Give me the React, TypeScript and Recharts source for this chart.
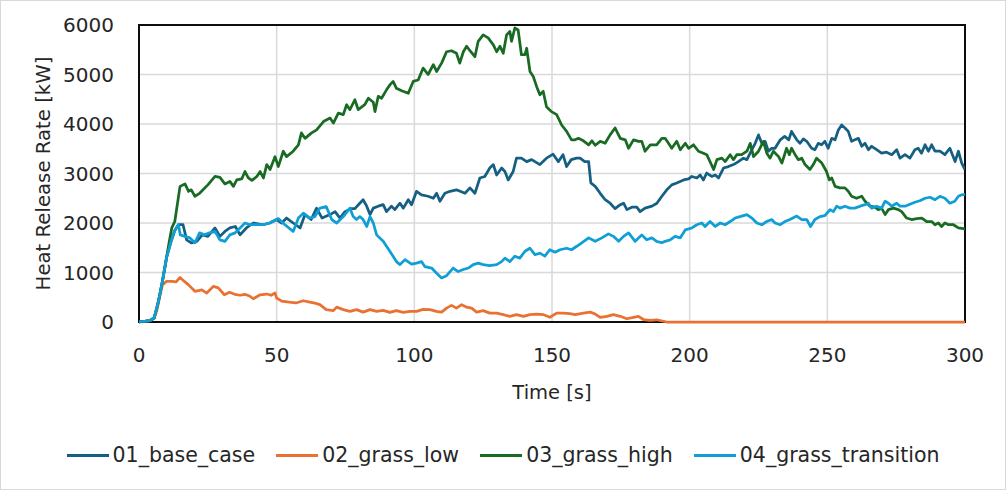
import React from 'react';
import { LineChart, Line, XAxis, YAxis, CartesianGrid, ReferenceArea } from 'recharts';

// Heat release rate curves, [time s, HRR kW]
const baseCase: [number, number][] = [
  [0, 0], [2, 15], [4, 30], [5.5, 80], [7, 400], [8.5, 820], [10, 1300], [11.5, 1600], [13, 1850], [14.3, 1965],
  [16, 1965], [17.3, 1660], [19, 1600], [21, 1630], [23, 1760], [25, 1730], [27.6, 1900], [29.4, 1730], [31.2, 1830], [33, 1900],
  [35, 1930], [36.7, 1760], [39, 1900], [41.5, 2000], [45, 1965], [47.5, 2000], [50, 2070], [51.8, 2000], [53.6, 2100], [56, 2000],
  [58.5, 1900], [60.3, 2170], [62.5, 2070], [64.5, 2300], [66.5, 2100], [69.4, 2170], [71.2, 2230], [73, 2100], [74.8, 2230], [77, 2290],
  [78.4, 2290], [80.2, 2400], [81.4, 2470], [82.7, 2340], [83.9, 2170], [85.1, 2300], [86.9, 2340], [88.7, 2370], [89.9, 2230], [91.7, 2340],
  [92.9, 2270], [94.8, 2400], [96, 2300], [97.8, 2470], [99, 2370], [100.8, 2640], [102.6, 2570], [105, 2540], [106.9, 2500], [108.1, 2600],
  [109.3, 2440], [111.1, 2600], [113, 2640], [115.3, 2670], [118.4, 2600], [120.2, 2710], [122, 2600], [123.8, 2910], [125.6, 2940], [127.4, 3110],
  [128.7, 3180], [129.9, 2970], [131.7, 3110], [132.9, 3040], [134.1, 2870], [135.9, 3040], [137.1, 3310], [138.9, 3310], [140.8, 3240], [142.6, 3280],
  [145.6, 3180], [148, 3310], [150.4, 3390], [152.3, 3240], [154, 3380], [155.3, 3140], [157, 3280], [158.9, 3310], [160.2, 3310], [161.9, 3240],
  [163.3, 3240], [164.1, 2810], [165.7, 2740], [167.5, 2600], [169.3, 2470], [171.1, 2400], [172.9, 2290], [174.8, 2370], [176, 2400], [177.2, 2270],
  [179, 2320], [180.8, 2320], [182, 2230], [183.8, 2300], [186.3, 2340], [188.1, 2400], [189.9, 2540], [191.7, 2670], [193.5, 2770], [195.3, 2810],
  [197.8, 2870], [199.6, 2890], [200.8, 2940], [202.6, 2910], [203.8, 2970], [205, 2870], [206.2, 3010], [208, 2940], [209.3, 2970], [210.5, 2910],
  [212.3, 3110], [214.1, 3140], [215.9, 3180], [217.7, 3240], [219.5, 3310], [220.8, 3280], [222.6, 3480], [223.8, 3610], [225, 3780], [226.2, 3610],
  [227.4, 3650], [228.6, 3450], [229.8, 3510], [231, 3510], [232.9, 3680], [234.5, 3750], [236, 3680], [237, 3850], [238.9, 3680], [240.1, 3610],
  [241.3, 3700], [242.5, 3650], [244.3, 3510], [245.5, 3480], [246.7, 3610], [247.9, 3580], [249.1, 3650], [250.3, 3510], [251.6, 3710], [252.8, 3680],
  [254, 3880], [255.2, 3980], [256.4, 3920], [257.6, 3850], [258.8, 3650], [260, 3680], [261.3, 3710], [262.5, 3550], [263.7, 3610], [264.9, 3480],
  [266.1, 3550], [267.9, 3480], [269.7, 3410], [271.5, 3430], [273.4, 3380], [275.2, 3480], [276.4, 3310], [278.2, 3380], [280, 3310], [281.8, 3480],
  [283, 3510], [284.2, 3410], [285.5, 3580], [286.7, 3450], [287.9, 3580], [289.1, 3450], [290.9, 3450], [292.7, 3380], [294.5, 3510], [296.4, 3240],
  [297.6, 3450], [298.8, 3210], [300, 3080],
];

const grassLow: [number, number][] = [
  [0, 0], [2, 15], [4, 30], [5.5, 80], [6.4, 215], [7.5, 500], [8.5, 750], [10, 820], [12, 820], [13.5, 810],
  [14.9, 900], [16.5, 820], [18, 750], [20.3, 620], [22.8, 650], [24.6, 585], [27, 720], [28.8, 690], [31, 550], [32.9, 600],
  [34.8, 560], [36.7, 540], [38.5, 560], [40.3, 520], [41.5, 470], [44, 550], [46.4, 565], [48, 540], [49.4, 585], [50, 485],
  [51.8, 420], [54.5, 400], [57, 385], [59.7, 430], [62, 400], [63.9, 380], [65.7, 350], [68, 250], [70.6, 230], [71.8, 300],
  [74.2, 250], [76.6, 215], [79, 250], [81.4, 200], [83.9, 250], [86.3, 215], [88.7, 235], [91.1, 195], [93.5, 230], [96, 195],
  [98.4, 215], [100.8, 215], [103.2, 255], [105.7, 250], [108, 215], [109.9, 200], [111.7, 280], [113.5, 335], [115.3, 280], [117.2, 350],
  [119, 300], [120.8, 280], [122.6, 200], [125, 230], [127.4, 180], [129.9, 180], [132.3, 150], [134.7, 115], [137.1, 150], [139.6, 115],
  [142, 150], [144.4, 160], [146.8, 150], [149.2, 95], [151.7, 180], [154.1, 180], [156.5, 170], [158.4, 150], [161.4, 180], [163.9, 200],
  [165.7, 160], [167.5, 95], [169.9, 115], [172.3, 150], [174.8, 115], [177.2, 65], [179.6, 95], [181.4, 115], [183.2, 50], [185.7, 35],
  [188, 45], [190.5, 15], [191.7, 0], [300, 0],
];

const grassHigh: [number, number][] = [
  [0, 0], [2, 15], [4, 30], [5.5, 80], [7, 400], [8.5, 820], [10, 1300], [10.6, 1500], [11.9, 1900], [13, 2030],
  [14.9, 2740], [16.7, 2790], [18, 2640], [19, 2670], [20.3, 2540], [22, 2600], [25, 2770], [27.6, 2940], [29.4, 2920], [31.2, 2790],
  [33, 2840], [34.3, 2740], [35.5, 2870], [37.3, 2890], [38.5, 3040], [39.7, 2910], [41, 2860], [42.8, 2940], [44, 3040], [45.2, 2910],
  [46.4, 3180], [47.6, 3080], [49.4, 3340], [50.6, 3140], [52.4, 3450], [53.6, 3340], [56, 3450], [57.9, 3580], [59, 3820], [60.3, 3710],
  [62.7, 3820], [64.5, 3880], [67, 4050], [69.4, 4120], [70.6, 4020], [72.4, 4220], [74.2, 4190], [75.4, 4390], [76.6, 4290], [78.4, 4490],
  [79.6, 4290], [82, 4390], [83.3, 4520], [85.1, 4440], [85.7, 4250], [86.9, 4560], [88.1, 4520], [89.9, 4690], [91.1, 4790], [92.3, 4860],
  [93.5, 4720], [95.4, 4670], [97.8, 4620], [99.6, 4860], [101.4, 4890], [103.2, 5130], [105, 5000], [106.9, 5200], [108.1, 5060], [109.9, 5230],
  [111.7, 5460], [113.5, 5480], [115.3, 5430], [116.5, 5230], [117.8, 5460], [119, 5570], [120.2, 5480], [122, 5360], [123.2, 5670], [125, 5800],
  [126.8, 5740], [128.7, 5600], [129.9, 5460], [131.1, 5570], [132.3, 5430], [133.5, 5800], [134.7, 5870], [135.3, 5670], [136.5, 5940], [137.7, 5900],
  [138.9, 5400], [140.2, 5400], [140.8, 5530], [142, 5060], [143.2, 4960], [144.4, 4760], [145.6, 4590], [146.8, 4660], [148, 4350], [149.8, 4250],
  [151.7, 4190], [153.5, 3980], [155.3, 3850], [157.1, 3680], [158.4, 3680], [159.6, 3710], [161.4, 3660], [163.3, 3580], [164.5, 3660], [165.7, 3570],
  [167.5, 3650], [169.3, 3610], [171.1, 3780], [172.9, 3920], [174.8, 3710], [176.6, 3680], [177.8, 3510], [179.6, 3680], [181.4, 3650], [182.6, 3650],
  [183.8, 3450], [185.7, 3580], [188, 3580], [189.9, 3710], [191.1, 3710], [192.3, 3610], [193.5, 3510], [195.3, 3650], [196.6, 3480], [198.4, 3610],
  [199.6, 3510], [201.4, 3580], [203.2, 3450], [205, 3410], [206.2, 3380], [207.4, 3240], [208.7, 3080], [209.9, 3280], [211.7, 3310], [212.9, 3240],
  [214.7, 3380], [215.9, 3280], [217.1, 3380], [218.9, 3380], [220.8, 3450], [222, 3610], [223.2, 3340], [225, 3450], [226.8, 3650], [228, 3410],
  [229.2, 3310], [230.4, 3450], [232.3, 3340], [233.5, 3210], [235.2, 3510], [236.2, 3380], [237, 3510], [238.3, 3380], [239.5, 3280], [240.7, 3310],
  [241.9, 3180], [243.7, 3080], [244.9, 3180], [246.1, 3310], [248, 3210], [249.7, 3040], [250.7, 2870], [251.6, 2910], [252.8, 2740], [254.6, 2710],
  [256.4, 2710], [257.6, 2640], [258.8, 2540], [260.6, 2500], [262.5, 2540], [263.7, 2440], [265.5, 2340], [267.3, 2320], [268.5, 2270], [269.7, 2300],
  [271, 2170], [272.2, 2270], [274, 2300], [275.8, 2270], [277, 2230], [278.8, 2100], [280.6, 2070], [282.5, 2090], [284.3, 2100], [286.1, 2030],
  [287.9, 2030], [289.1, 1965], [290.3, 2000], [291.5, 1930], [292.7, 2000], [294, 1965], [295.8, 1965], [297.6, 1900], [300, 1880],
];

const grassTransition: [number, number][] = [
  [0, 0], [2, 15], [4, 30], [5.5, 80], [7, 400], [8.5, 820], [10, 1300], [11.5, 1600], [13, 1850], [14.3, 1965],
  [15, 1760], [16.7, 1730], [18.5, 1700], [20.3, 1600], [22, 1800], [23.8, 1760], [25.6, 1800], [27.6, 1830], [29.4, 1660], [31.2, 1630],
  [33, 1760], [34.9, 1800], [36.7, 1900], [38.5, 2000], [40.3, 1965], [42.8, 1965], [45, 1965], [47.5, 2000], [50.6, 2090], [53, 1965],
  [56, 1830], [57.9, 2100], [59.7, 2200], [62, 2100], [63.9, 2130], [65.7, 2300], [68, 2330], [70, 2070], [71.8, 2000], [74.2, 2130],
  [76.6, 2300], [77.8, 2130], [79, 2070], [80.2, 2130], [81.4, 2070], [82.7, 1930], [83.9, 2130], [85.1, 2000], [86.3, 1760], [88.7, 1630],
  [91.1, 1430], [93.5, 1220], [94.8, 1160], [96.6, 1260], [99, 1170], [100.8, 1190], [102.6, 1220], [103.8, 1120], [106.3, 1090], [108, 990],
  [109.9, 890], [111.7, 935], [114.1, 1090], [115.9, 1020], [117.8, 1060], [119.6, 1090], [121.4, 1160], [123.2, 1190], [125, 1160], [127.4, 1140],
  [129.9, 1160], [131.7, 1220], [132.9, 1290], [134.7, 1220], [136.5, 1330], [138.3, 1290], [140.2, 1430], [142, 1490], [143.8, 1360], [145.6, 1390],
  [147.4, 1330], [149.2, 1460], [151.1, 1410], [152.9, 1460], [155.3, 1490], [157.1, 1460], [159, 1530], [160.8, 1600], [163.3, 1700], [165.7, 1630],
  [168.1, 1700], [170.5, 1780], [172.3, 1730], [174.2, 1630], [176, 1730], [177.8, 1800], [180.2, 1630], [182.6, 1760], [184.4, 1660], [186.3, 1700],
  [188, 1630], [189.9, 1600], [191.1, 1630], [192.9, 1660], [194.7, 1730], [196.6, 1700], [198.4, 1860], [200.8, 1900], [202.6, 1965], [204.4, 2000],
  [205.6, 1930], [207.4, 2030], [209.3, 1930], [211.1, 2000], [212.9, 1965], [214.7, 2030], [216.5, 2100], [218.3, 2130], [220.8, 2170], [222.6, 2100],
  [224.4, 2000], [226.2, 1965], [228, 2030], [229.8, 2070], [231, 2000], [232.9, 1965], [234.6, 2030], [236.4, 2070], [238.9, 2140], [240.7, 2070],
  [242.5, 2070], [243.9, 1930], [245.5, 2070], [247.3, 2130], [249.1, 2150], [251, 2270], [252.2, 2230], [253.4, 2340], [254.6, 2300], [256.4, 2340],
  [258.2, 2300], [260, 2300], [261.9, 2340], [263.7, 2370], [264.9, 2400], [266.1, 2300], [267.9, 2340], [269.7, 2300], [271, 2440], [272.2, 2400],
  [273.4, 2340], [275.2, 2400], [276.4, 2340], [278.2, 2340], [280, 2380], [281.8, 2420], [283.6, 2450], [285.5, 2500], [287.3, 2520], [289.1, 2470],
  [290.9, 2540], [292.7, 2500], [294.5, 2400], [296.3, 2440], [297.6, 2540], [298.8, 2570], [300, 2580],
];

const xTicks = [0, 50, 100, 150, 200, 250, 300];
const yTicks = [0, 1000, 2000, 3000, 4000, 5000, 6000];

const series = [
  { name: '01_base_case', color: '#156082', points: baseCase },
  { name: '02_grass_low', color: '#E97132', points: grassLow },
  { name: '03_grass_high', color: '#196B24', points: grassHigh },
  { name: '04_grass_transition', color: '#0F9ED5', points: grassTransition },
];

const CHART_W = 1006;
const CHART_H = 490;
const Y_AXIS_W = 139;
const X_AXIS_H = 168;
const MARGIN = { top: 25, right: 41, bottom: 0, left: 0 };
const PLOT_TOP = MARGIN.top;
const PLOT_BOTTOM = CHART_H - X_AXIS_H;
const FONT = '"DejaVu Sans", "Liberation Sans", sans-serif';
const TEXT_COLOR = '#262626';

const XTick = (props: any) => {
  const { x, payload } = props;
  return (
    <text x={x} y={PLOT_BOTTOM + 40} textAnchor="middle" fontFamily={FONT} fontSize={20} fill={TEXT_COLOR}>
      {payload.value}
    </text>
  );
};

const YTick = (props: any) => {
  const { y, payload } = props;
  return (
    <text x={Y_AXIS_W - 25} y={y + 7} textAnchor="end" fontFamily={FONT} fontSize={20} fill={TEXT_COLOR}>
      {payload.value}
    </text>
  );
};

const YTitle = () => {
  const cx = 49.5;
  const cy = (PLOT_TOP + PLOT_BOTTOM) / 2;
  return (
    <text
      x={cx}
      y={cy}
      transform={`rotate(-90, ${cx}, ${cy})`}
      textAnchor="middle"
      fontFamily={FONT}
      fontSize={19.7}
      fill={TEXT_COLOR}
    >
      Heat Release Rate [kW]
    </text>
  );
};

const XTitle = (props: any) => {
  const vb = props.viewBox || {};
  const cx = (vb.x ?? Y_AXIS_W) + (vb.width ?? 826) / 2;
  return (
    <text x={cx} y={PLOT_BOTTOM + 77} textAnchor="middle" fontFamily={FONT} fontSize={19.5} fill={TEXT_COLOR}>
      Time [s]
    </text>
  );
};

const LegendRow = () => (
  <div
    style={{
      position: 'absolute',
      left: 0,
      top: 440,
      width: CHART_W,
      height: 30,
      display: 'flex',
      justifyContent: 'center',
      alignItems: 'center',
      fontFamily: FONT,
      fontSize: 20.5,
      color: TEXT_COLOR,
      whiteSpace: 'nowrap',
    }}
  >
    {series.map((s, i) => (
      <div key={s.name} style={{ display: 'flex', alignItems: 'center', marginLeft: i === 0 ? 0 : 21 }}>
        <span style={{ display: 'inline-block', width: 42, height: 3, background: s.color, marginRight: 4 }} />
        <span>{s.name}</span>
      </div>
    ))}
  </div>
);

export default function App() {
  return (
    <div style={{ position: 'absolute', left: 0, top: 0, width: CHART_W, height: CHART_H, background: '#fff' }}>
      <LineChart width={CHART_W} height={CHART_H} margin={MARGIN}>
        <CartesianGrid stroke="#d9d9d9" strokeWidth={1.5} />
        <XAxis
          type="number"
          dataKey="t"
          domain={[0, 300]}
          ticks={xTicks}
          height={X_AXIS_H}
          axisLine={false}
          tickLine={false}
          tick={<XTick />}
          label={<XTitle />}
          allowDataOverflow
        />
        <YAxis
          type="number"
          domain={[0, 6000]}
          ticks={yTicks}
          width={Y_AXIS_W}
          axisLine={false}
          tickLine={false}
          tick={<YTick />}
          label={<YTitle />}
        />
        <ReferenceArea x1={0} x2={300} y1={0} y2={6000} fill="none" fillOpacity={0} stroke="#0d0d0d" strokeWidth={2} />
        {series.map((s) => (
          <Line
            key={s.name}
            data={s.points.map(([t, v]) => ({ t, v }))}
            dataKey="v"
            name={s.name}
            type="linear"
            stroke={s.color}
            strokeWidth={2.75}
            strokeLinejoin="round"
            dot={false}
            activeDot={false}
            isAnimationActive={false}
          />
        ))}
      </LineChart>
      <LegendRow />
      <div
        style={{
          position: 'absolute',
          left: 0,
          top: 0,
          width: CHART_W,
          height: CHART_H,
          border: '1px solid #d9d9d9',
          boxSizing: 'border-box',
          pointerEvents: 'none',
        }}
      />
    </div>
  );
}
